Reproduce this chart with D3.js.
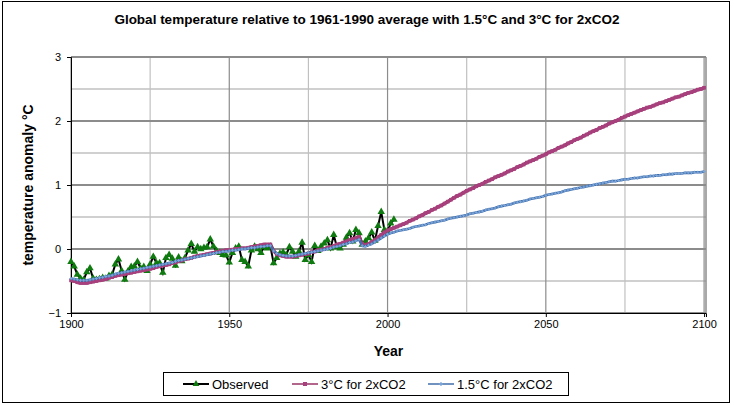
<!DOCTYPE html>
<html>
<head>
<meta charset="utf-8">
<script src="https://cdn.jsdelivr.net/npm/d3@7"></script>
<style>
  body { margin: 0; background: #fff; }
  text { font-family: "Liberation Sans", Arial, sans-serif; }
</style>
</head>
<body>
<div id="chart"></div>
<script>
// years covered by each series
var obsStart = 1900;
var modelStart = 1900;

// observed annual anomaly 1900-2002
var observed = [
  -0.20, -0.27, -0.40, -0.46, -0.48, -0.36, -0.30, -0.46, -0.48, -0.47,
  -0.45, -0.46, -0.42, -0.40, -0.24, -0.16, -0.34, -0.48, -0.35, -0.28,
  -0.27, -0.20, -0.30, -0.28, -0.34, -0.24, -0.12, -0.22, -0.22, -0.37,
  -0.14, -0.09, -0.15, -0.26, -0.13, -0.19, -0.14, -0.02, 0.08, -0.04,
  0.03, 0.00, 0.02, 0.03, 0.15, 0.04, -0.03, -0.06, -0.09, -0.10,
  -0.21, -0.06, 0.01, 0.04, -0.17, -0.20, -0.27, -0.02, 0.04, 0.00,
  -0.06, 0.03, 0.01, 0.04, -0.22, -0.14, -0.07, -0.05, -0.09, 0.03,
  -0.04, -0.12, -0.04, 0.10, -0.17, -0.09, -0.20, 0.05, -0.03, 0.04,
  0.09, 0.14, 0.01, 0.22, 0.03, 0.01, 0.07, 0.18, 0.25, 0.12,
  0.30, 0.25, 0.07, 0.12, 0.17, 0.26, 0.13, 0.36, 0.58, 0.30,
  0.28, 0.40, 0.46
];

// model with 3°C for 2xCO2, 1900-2100
var sens3 = [
  -0.49, -0.50, -0.52, -0.53, -0.53, -0.53, -0.52, -0.51, -0.50, -0.49,
  -0.48, -0.47, -0.45, -0.44, -0.42, -0.41, -0.40, -0.39, -0.38, -0.37,
  -0.36, -0.35, -0.34, -0.33, -0.32, -0.31, -0.30, -0.28, -0.27, -0.26,
  -0.25, -0.24, -0.22, -0.21, -0.19, -0.18, -0.16, -0.15, -0.14, -0.12,
  -0.11, -0.10, -0.09, -0.08, -0.07, -0.06, -0.05, -0.04, -0.03, -0.02,
  -0.02, -0.01, 0.00, 0.00, 0.01, 0.01, 0.02, 0.03, 0.04, 0.05,
  0.06, 0.07, 0.07, 0.07, -0.03, -0.08, -0.10, -0.11, -0.12, -0.12,
  -0.12, -0.11, -0.10, -0.09, -0.08, -0.07, -0.05, -0.04, -0.02, -0.01,
  0.00, 0.02, 0.03, 0.05, 0.07, 0.08, 0.10, 0.12, 0.14, 0.16,
  0.17, 0.19, 0.08, 0.06, 0.08, 0.11, 0.14, 0.18, 0.22, 0.26,
  0.29, 0.31, 0.33, 0.35, 0.37, 0.39, 0.41, 0.44, 0.46, 0.48,
  0.51, 0.53, 0.56, 0.58, 0.61, 0.63, 0.66, 0.68, 0.71, 0.74,
  0.77, 0.80, 0.83, 0.85, 0.88, 0.91, 0.93, 0.95, 0.98, 1.00,
  1.02, 1.05, 1.07, 1.09, 1.12, 1.14, 1.16, 1.18, 1.21, 1.23,
  1.25, 1.28, 1.30, 1.32, 1.35, 1.37, 1.39, 1.41, 1.44, 1.46,
  1.48, 1.51, 1.53, 1.55, 1.58, 1.60, 1.62, 1.65, 1.67, 1.70,
  1.72, 1.74, 1.77, 1.79, 1.82, 1.84, 1.86, 1.89, 1.91, 1.93,
  1.96, 1.98, 2.00, 2.02, 2.05, 2.07, 2.09, 2.11, 2.13, 2.15,
  2.17, 2.19, 2.21, 2.22, 2.24, 2.26, 2.28, 2.29, 2.31, 2.33,
  2.35, 2.37, 2.38, 2.40, 2.42, 2.44, 2.45, 2.47, 2.49, 2.50,
  2.52
];

// model with 1.5°C for 2xCO2, 1900-2100
var sens15 = [
  -0.46, -0.47, -0.48, -0.49, -0.49, -0.49, -0.48, -0.47, -0.46, -0.45,
  -0.44, -0.43, -0.42, -0.41, -0.39, -0.38, -0.37, -0.36, -0.35, -0.34,
  -0.33, -0.32, -0.31, -0.30, -0.29, -0.28, -0.27, -0.26, -0.25, -0.24,
  -0.23, -0.22, -0.21, -0.19, -0.18, -0.17, -0.16, -0.15, -0.14, -0.13,
  -0.12, -0.11, -0.10, -0.09, -0.08, -0.07, -0.06, -0.05, -0.04, -0.04,
  -0.03, -0.02, -0.02, -0.01, 0.00, 0.00, 0.01, 0.02, 0.02, 0.03,
  0.04, 0.04, 0.05, 0.05, -0.03, -0.07, -0.09, -0.10, -0.11, -0.11,
  -0.11, -0.10, -0.09, -0.08, -0.07, -0.06, -0.05, -0.04, -0.03, -0.02,
  -0.01, 0.00, 0.01, 0.03, 0.04, 0.05, 0.07, 0.08, 0.10, 0.11,
  0.13, 0.15, 0.05, 0.04, 0.06, 0.08, 0.11, 0.14, 0.17, 0.20,
  0.23, 0.25, 0.26, 0.28, 0.29, 0.30, 0.31, 0.32, 0.34, 0.35,
  0.36, 0.37, 0.38, 0.40, 0.41, 0.42, 0.43, 0.44, 0.45, 0.47,
  0.48, 0.49, 0.50, 0.51, 0.52, 0.53, 0.55, 0.56, 0.57, 0.58,
  0.59, 0.61, 0.62, 0.63, 0.64, 0.66, 0.67, 0.68, 0.69, 0.70,
  0.72, 0.73, 0.74, 0.75, 0.76, 0.78, 0.79, 0.80, 0.81, 0.82,
  0.84, 0.85, 0.86, 0.87, 0.88, 0.89, 0.91, 0.92, 0.93, 0.94,
  0.95, 0.96, 0.97, 0.98, 0.99, 1.00, 1.01, 1.02, 1.03, 1.04,
  1.05, 1.06, 1.06, 1.07, 1.08, 1.09, 1.09, 1.10, 1.11, 1.11,
  1.12, 1.13, 1.13, 1.14, 1.14, 1.15, 1.15, 1.16, 1.16, 1.17,
  1.17, 1.18, 1.18, 1.18, 1.19, 1.19, 1.19, 1.20, 1.20, 1.20,
  1.21
];

var yTicks = [-1, 0, 1, 2, 3];
var yMinor = [-0.5, 0.5, 1.5, 2.5];
var xTicks = [1900, 1950, 2000, 2050, 2100];
var xMinor = [1925, 1975, 2025, 2075];
var seriesNames = ["Observed", "3°C for 2xCO2", "1.5°C for 2xCO2"];

function toPoints(values, start) {
  return values.map(function (v, i) { return { year: start + i, value: v }; });
}

var W = 734, H = 405;
var pLeft = 71, pRight = 706, pTop = 57, pBottom = 313;

var svg = d3.select("#chart").append("svg")
  .attr("width", W)
  .attr("height", H);

svg.append("rect").attr("width", W).attr("height", H).attr("fill", "#fff");
svg.append("rect")
  .attr("x", 2.5).attr("y", 1.5).attr("width", 727).attr("height", 401)
  .attr("fill", "none").attr("stroke", "#000").attr("stroke-width", 1);

var x = d3.scaleLinear().domain([1900, 2100.6]).range([pLeft, pRight]);
var y = d3.scaleLinear().domain([-1, 3]).range([pBottom, pTop]);

// grid
var grid = svg.append("g");
grid.selectAll(".hminor").data(yMinor).enter().append("line")
  .attr("x1", pLeft).attr("x2", pRight)
  .attr("y1", function (d) { return y(d); }).attr("y2", function (d) { return y(d); })
  .attr("stroke", "#c0c0c0").attr("stroke-width", 1.5);
grid.selectAll(".vminor").data(xMinor).enter().append("line")
  .attr("y1", pTop).attr("y2", pBottom)
  .attr("x1", function (d) { return x(d); }).attr("x2", function (d) { return x(d); })
  .attr("stroke", "#c0c0c0").attr("stroke-width", 1.2);
grid.selectAll(".vmajor").data(xTicks).enter().append("line")
  .attr("y1", pTop).attr("y2", pBottom)
  .attr("x1", function (d) { return x(d); }).attr("x2", function (d) { return x(d); })
  .attr("stroke", "#8c8c8c").attr("stroke-width", 1.2);
grid.selectAll(".hmajor").data(yTicks).enter().append("line")
  .attr("x1", pLeft).attr("x2", pRight)
  .attr("y1", function (d) { return y(d); }).attr("y2", function (d) { return y(d); })
  .attr("stroke", "#8c8c8c").attr("stroke-width", 2);
grid.append("line")
  .attr("x1", pRight).attr("x2", pRight).attr("y1", pTop).attr("y2", pBottom)
  .attr("stroke", "#8c8c8c").attr("stroke-width", 1.5);

// axes
var xAxis = d3.axisBottom(x).tickValues(xTicks).tickSize(4).tickPadding(3).tickFormat(d3.format("d"));
var yAxis = d3.axisLeft(y).tickValues(yTicks).tickSize(4).tickPadding(6).tickFormat(d3.format("d"));

svg.append("g")
  .attr("transform", "translate(0," + pBottom + ")")
  .call(xAxis)
  .call(function (g) {
    g.selectAll("text").attr("font-size", 11).attr("fill", "#000").attr("font-family", "Liberation Sans, Arial, sans-serif");
    g.selectAll("line,path").attr("stroke", "#000");
  });

svg.append("g")
  .attr("transform", "translate(" + pLeft + ",0)")
  .call(yAxis)
  .call(function (g) {
    g.selectAll("text").attr("font-size", 11).attr("fill", "#000").attr("font-family", "Liberation Sans, Arial, sans-serif");
    g.selectAll("line,path").attr("stroke", "#000");
  });

// lines
var line = d3.line()
  .x(function (d) { return x(d.year); })
  .y(function (d) { return y(d.value); });

var obsData = toPoints(observed, obsStart);
var s3Data = toPoints(sens3, modelStart);
var s15Data = toPoints(sens15, modelStart);

svg.append("path").datum(obsData)
  .attr("d", line).attr("fill", "none")
  .attr("stroke", "#000").attr("stroke-width", 2);

svg.selectAll(".obs").data(obsData).enter().append("path")
  .attr("d", d3.symbol().type(d3.symbolTriangle).size(24))
  .attr("transform", function (d) { return "translate(" + x(d.year) + "," + y(d.value) + ")"; })
  .attr("fill", "#0f7a0f");

svg.append("path").datum(s3Data)
  .attr("d", line).attr("fill", "none")
  .attr("stroke", "#993366").attr("stroke-width", 3.5);

svg.selectAll(".s3").data(s3Data).enter().append("rect")
  .attr("x", function (d) { return x(d.year) - 1.8; })
  .attr("y", function (d) { return y(d.value) - 1.8; })
  .attr("width", 3.6).attr("height", 3.6)
  .attr("fill", "#a8407e");

svg.append("path").datum(s15Data)
  .attr("d", line).attr("fill", "none")
  .attr("stroke", "#3f6eaa").attr("stroke-width", 2.6);

svg.selectAll(".s15").data(s15Data).enter().append("path")
  .attr("d", d3.symbol().type(d3.symbolCross).size(5))
  .attr("transform", function (d) { return "translate(" + x(d.year) + "," + y(d.value) + ")"; })
  .attr("fill", "#7ea6da");

// titles
svg.append("text")
  .attr("x", 367).attr("y", 24)
  .attr("text-anchor", "middle")
  .attr("font-size", 13.5).attr("font-weight", "bold")
  .text("Global temperature  relative to 1961-1990  average with 1.5°C and 3°C for 2xCO2");

svg.append("text")
  .attr("transform", "translate(33," + ((pTop + pBottom) / 2) + ") rotate(-90)")
  .attr("text-anchor", "middle")
  .attr("font-size", 14).attr("font-weight", "bold")
  .text("temperature anomaly °C");

svg.append("text")
  .attr("x", (pLeft + pRight) / 2).attr("y", 356)
  .attr("text-anchor", "middle")
  .attr("font-size", 14).attr("font-weight", "bold")
  .text("Year");

// legend
var legend = svg.append("g");
legend.append("rect")
  .attr("x", 163.5).attr("y", 372.5).attr("width", 405).attr("height", 23)
  .attr("fill", "#fff").attr("stroke", "#000").attr("stroke-width", 1);

var legX = [183, 292, 428];
var legColors = ["#000", "#993366", "#3f6eaa"];
var ly = 384;

seriesNames.forEach(function (name, i) {
  var g = legend.append("g").attr("transform", "translate(" + legX[i] + "," + ly + ")");
  g.append("line").attr("x1", 0).attr("x2", 26).attr("y1", 0).attr("y2", 0)
    .attr("stroke", legColors[i]).attr("stroke-width", i === 0 ? 2 : 1.5);
  if (i === 0) {
    g.append("path").attr("d", d3.symbol().type(d3.symbolTriangle).size(20))
      .attr("transform", "translate(13,0)").attr("fill", "#0f7a0f");
  } else if (i === 1) {
    g.append("rect").attr("x", 11).attr("y", -2).attr("width", 4).attr("height", 4).attr("fill", "#a8407e");
  } else {
    g.append("path").attr("d", d3.symbol().type(d3.symbolCross).size(8))
      .attr("transform", "translate(13,0)").attr("fill", "#7ea6da");
  }
  g.append("text").attr("x", 29).attr("y", 5)
    .attr("font-size", 13).text(name);
});
</script>
</body>
</html>
